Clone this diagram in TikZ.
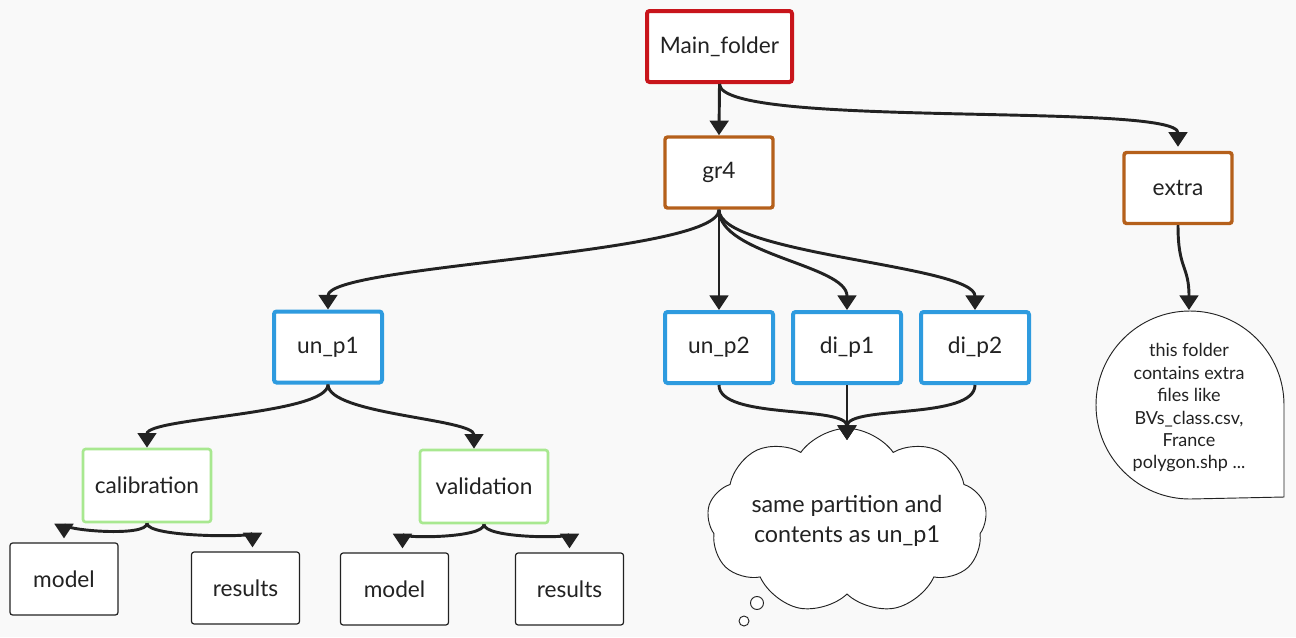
\documentclass[tikz,border=0pt]{standalone}
\usepackage{fontspec}
\setmainfont{Lato}
\usetikzlibrary{arrows.meta,shapes.symbols,calc}
\definecolor{bg}{HTML}{F9F9F9}
\definecolor{ink}{HTML}{222222}
\definecolor{redc}{HTML}{C8151B}
\definecolor{orc}{HTML}{B5601B}
\definecolor{bluec}{HTML}{2E9BDF}
\definecolor{greenc}{HTML}{A8E890}
\begin{document}
\begin{tikzpicture}[x=0.75pt,y=0.75pt,
  box/.style={draw,fill=white,rounded corners=2pt,inner sep=0pt,text=ink,font=\fontsize{17}{20}\selectfont},
  rootbox/.style={box,draw=redc,line width=3pt,minimum width=108.75pt,minimum height=53.25pt},
  orbox/.style={box,draw=orc,line width=2.6pt,minimum width=81pt,minimum height=53.25pt},
  bluebox/.style={box,draw=bluec,line width=3pt,minimum width=81pt,minimum height=53.25pt},
  greenbox/.style={box,draw=greenc,line width=2pt,minimum width=96pt,minimum height=54.75pt},
  leafbox/.style={box,draw=ink,line width=0.9pt,minimum width=81pt,minimum height=54pt},
  conn/.style={draw=ink,line width=2.2pt,-{Triangle[width=14pt,length=11pt]}},
]
\fill[bg] (0,0) rectangle (1296,-637);
\useasboundingbox (0,0) rectangle (1296,-637);

% nodes
\node[rootbox] (main) at (719.5,-46.5) {Main\_folder};
\node[orbox] (gr4) at (719,-172.5) {gr4};
\node[orbox] (extra) at (1178,-188) {extra};
\node[bluebox] (unp1) at (328,-347) {un\_p1};
\node[bluebox] (unp2) at (719,-347.5) {un\_p2};
\node[bluebox] (dip1) at (847,-347.5) {di\_p1};
\node[bluebox] (dip2) at (975,-347.5) {di\_p2};
\node[greenbox] (calib) at (147,-485.5) {calibration};
\node[greenbox] (valid) at (484,-486.5) {validation};
\node[leafbox] (model1) at (64,-579) {model};
\node[leafbox] (results1) at (245.5,-588) {results};
\node[leafbox] (model2) at (394.5,-589) {model};
\node[leafbox] (results2) at (569.5,-589) {results};

% cloud
\node[cloud,cloud puffs=9,cloud puff arc=110,aspect=1.85,draw=ink,line width=0.7pt,fill=white,
      minimum width=191pt,minimum height=100pt,inner sep=0pt,text=ink,align=center,
      font=\fontsize{17.5}{22.5}\selectfont] (cloud) at (847,-521)
      {same partition and\\ contents as un\_p1};
\coordinate (cloudtop) at (847,-440);
\draw[ink,line width=0.7pt,fill=white] (757,-603) circle (6.5);
\draw[ink,line width=0.7pt,fill=white] (744,-621) circle (5);

% note
\draw[ink,line width=0.7pt,fill=white] (1284,-497) -- (1284,-405) arc[start angle=0,end angle=270,radius=94] -- cycle;
\coordinate (notetop) at (1189,-310);
\node[text=ink,align=center,font=\fontsize{13.5}{16.8}\selectfont] (note) at (1189,-408)
  {this folder\\ contains extra\\ files like\\ BVs\_class.csv,\\ France\\ polygon.shp ...};

% connectors
\draw[conn] (main.south) -- (gr4.north);
\draw[conn] (main.south) .. controls +(0,-45) and +(0,45) .. ($(extra.north)+(0,4)$);
\draw[conn] (gr4.south) .. controls +(0,-45) and +(0,45) .. (unp1.north);
\draw[conn] (gr4.south) -- (unp2.north);
\draw[conn] (gr4.south) .. controls +(0,-45) and +(0,45) .. (dip1.north);
\draw[conn] (gr4.south) .. controls +(0,-45) and +(0,45) .. (dip2.north);
\draw[conn] (extra.south) .. controls +(0,-45) and +(0,45) .. (notetop);
\draw[conn] (unp1.south) .. controls +(0,-30) and +(0,30) .. (calib.north);
\draw[conn] (unp1.south) .. controls +(0,-30) and +(0,30) .. ($(valid.north)+(-10,0)$);
\draw[conn] (calib.south) .. controls +(0,-14) and +(0,8) .. ($(model1.north)+(0,4)$);
\draw[conn] (calib.south) .. controls +(0,-14) and +(0,10) .. ($(results1.north)+(7,4)$);
\draw[conn] (valid.south) .. controls +(0,-14) and +(0,10) .. ($(model2.north)+(8,4)$);
\draw[conn] (valid.south) .. controls +(0,-14) and +(0,10) .. ($(results2.north)+(0,4)$);
\draw[conn] (unp2.south) .. controls +(0,-35) and +(0,35) .. (cloudtop);
\draw[conn] (dip1.south) -- (cloudtop);
\draw[conn] (dip2.south) .. controls +(0,-35) and +(0,35) .. (cloudtop);
\end{tikzpicture}
\end{document}
